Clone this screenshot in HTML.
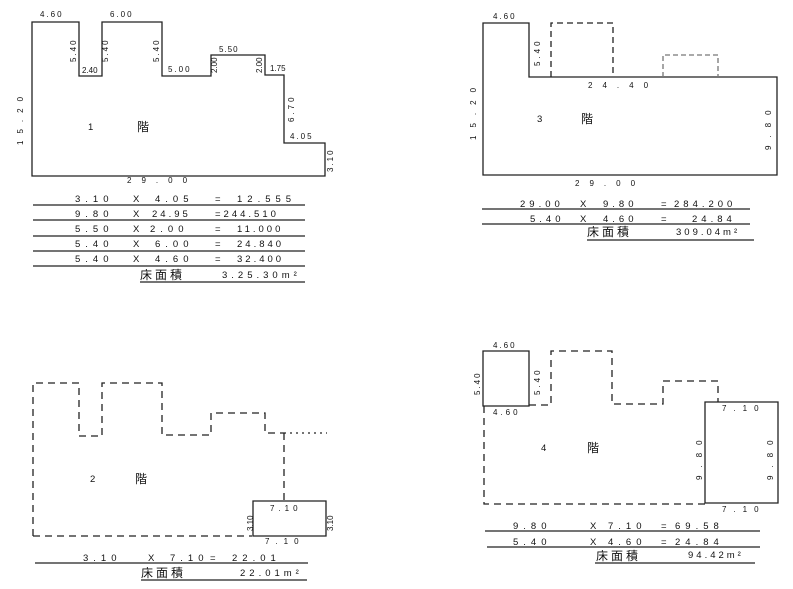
<!DOCTYPE html>
<html><head><meta charset="utf-8"><style>
html,body{margin:0;padding:0;background:#fff;}
svg{display:block;}
text{font-family:"Liberation Sans","Noto Sans CJK JP",sans-serif;fill:#111;}
.s{font-size:8px;}
.t{font-size:9.5px;}
.k{font-size:12px;}
</style></head><body>
<svg width="793" height="589" viewBox="0 0 793 589" xmlns="http://www.w3.org/2000/svg">
<g fill="none" stroke="#222" stroke-width="1.3">
<path d="M32 22H79V76H102V22H162V76H211V55H265V75H284V143H325V176H32Z"/>
<path d="M33 205H305M33 220H305M33 236H305M33 251H305M33 266H305M140 282H305"/>
<path d="M483 23H529V77H777V175H483Z"/>
<path d="M551 77V23H613V77" stroke-dasharray="6,4"/>
<path d="M663 77V55H718V77" stroke-dasharray="5,3" stroke="#777"/>
<path d="M482 209H750M482 224H750M587 240H754"/>
<path d="M33 536V383H79V436H102V383H162V435H211V413H265V433H284" stroke-dasharray="7,5"/>
<path d="M284 433H327" stroke-dasharray="2,4"/>
<path d="M284 433V500" stroke-dasharray="7,5"/>
<path d="M33 536H252" stroke-dasharray="7,5"/>
<path d="M253 501H326V536H253Z"/>
<path d="M35 563H308M141 580H307"/>
<path d="M483 351H529V406H483Z"/>
<path d="M529 405H551V351H612V404H663V381H718V402" stroke-dasharray="7,5"/>
<path d="M484 406V504H705" stroke-dasharray="7,5"/>
<path d="M705 402H778V503H705Z"/>
<path d="M485 531H760M487 547H760M595 563H755"/>
</g>

<text class="s" x="40" y="17" letter-spacing="2">4.60</text>
<text class="s" x="110" y="17" letter-spacing="2">6.00</text>
<text class="s" transform="translate(76,62) rotate(-90)" letter-spacing="2">5.40</text>
<text class="s" x="82" y="73">2.40</text>
<text class="s" transform="translate(108,62) rotate(-90)" letter-spacing="2">5.40</text>
<text class="s" transform="translate(159,62) rotate(-90)" letter-spacing="2">5.40</text>
<text class="s" x="168" y="72" letter-spacing="2">5.00</text>
<text class="s" transform="translate(217,73) rotate(-90)">2.00</text>
<text class="s" x="219" y="52" letter-spacing="1">5.50</text>
<text class="s" transform="translate(262,73) rotate(-90)">2.00</text>
<text class="s" x="270" y="71">1.75</text>
<text class="s" transform="translate(294,122) rotate(-90)" letter-spacing="3">6.70</text>
<text class="s" x="290" y="139" letter-spacing="2">4.05</text>
<text class="s" transform="translate(333,172) rotate(-90)" letter-spacing="2">3.10</text>
<text class="s" transform="translate(23,145) rotate(-90)" letter-spacing="7">15.20</text>
<text class="s" x="127" y="183" letter-spacing="10">29.00</text>
<text class="t" x="88" y="130">1</text>
<text class="k" x="137" y="131">階</text>
<g class="t" letter-spacing="5">
<text x="75" y="202">3.10</text><text x="133" y="202">X</text><text x="155" y="202">4.05</text><text x="215" y="202">=</text><text x="237" y="202">12.555</text>
<text x="75" y="217">9.80</text><text x="133" y="217">X</text><text x="152" y="217" letter-spacing="3">24.95</text><text x="215" y="217" letter-spacing="3">=244.510</text>
<text x="75" y="232">5.50</text><text x="133" y="232">X</text><text x="150" y="232">2.00</text><text x="215" y="232">=</text><text x="237" y="232" letter-spacing="3">11.000</text>
<text x="75" y="247">5.40</text><text x="133" y="247">X</text><text x="155" y="247">6.00</text><text x="215" y="247">=</text><text x="237" y="247" letter-spacing="3">24.840</text>
<text x="75" y="262">5.40</text><text x="133" y="262">X</text><text x="155" y="262">4.60</text><text x="215" y="262">=</text><text x="237" y="262" letter-spacing="3">32.400</text>
</g>
<text class="k" x="140" y="279" letter-spacing="3">床面積</text>
<text class="t" x="222" y="278" letter-spacing="4">3.25.30m²</text>

<text class="s" x="493" y="19" letter-spacing="2">4.60</text>
<text class="s" transform="translate(540,66) rotate(-90)" letter-spacing="3">5.40</text>
<text class="s" x="588" y="88" letter-spacing="10">24.40</text>
<text class="s" transform="translate(476,140) rotate(-90)" letter-spacing="8">15.20</text>
<text class="s" transform="translate(771,150) rotate(-90)" letter-spacing="8">9.80</text>
<text class="t" x="537" y="122">3</text>
<text class="k" x="581" y="123">階</text>
<text class="s" x="575" y="186" letter-spacing="10">29.00</text>
<g class="t" letter-spacing="4">
<text x="520" y="207">29.00</text><text x="580" y="207">X</text><text x="603" y="207">9.80</text><text x="661" y="207">=</text><text x="674" y="207">284.200</text>
<text x="530" y="222">5.40</text><text x="580" y="222">X</text><text x="603" y="222">4.60</text><text x="661" y="222">=</text><text x="692" y="222">24.84</text>
</g>
<text class="k" x="587" y="236" letter-spacing="3">床面積</text>
<text class="t" x="676" y="235" letter-spacing="3">309.04m²</text>

<text class="t" x="90" y="482">2</text>
<text class="k" x="135" y="483">階</text>
<text class="s" x="270" y="511" letter-spacing="4">7.10</text>
<text class="s" transform="translate(253,531) rotate(-90)">3.10</text>
<text class="s" transform="translate(333,531) rotate(-90)">3.10</text>
<text class="s" x="265" y="544" letter-spacing="6">7.10</text>
<g class="t" letter-spacing="5">
<text x="83" y="561">3.10</text><text x="148" y="561">X</text><text x="170" y="561">7.10</text><text x="210" y="561">=</text><text x="232" y="561">22.01</text>
</g>
<text class="k" x="141" y="577" letter-spacing="3">床面積</text>
<text class="t" x="240" y="576" letter-spacing="4">22.01m²</text>

<text class="s" x="493" y="348" letter-spacing="2">4.60</text>
<text class="s" transform="translate(480,395) rotate(-90)" letter-spacing="2">5.40</text>
<text class="s" transform="translate(540,395) rotate(-90)" letter-spacing="3">5.40</text>
<text class="s" x="493" y="415" letter-spacing="3">4.60</text>
<text class="t" x="541" y="451">4</text>
<text class="k" x="587" y="452">階</text>
<text class="s" x="722" y="411" letter-spacing="7">7.10</text>
<text class="s" transform="translate(702,480) rotate(-90)" letter-spacing="8">9.80</text>
<text class="s" transform="translate(773,480) rotate(-90)" letter-spacing="8">9.80</text>
<text class="s" x="722" y="512" letter-spacing="7">7.10</text>
<g class="t" letter-spacing="5">
<text x="513" y="529">9.80</text><text x="590" y="529">X</text><text x="608" y="529">7.10</text><text x="661" y="529">=</text><text x="675" y="529">69.58</text>
<text x="513" y="545">5.40</text><text x="590" y="545">X</text><text x="608" y="545">4.60</text><text x="661" y="545">=</text><text x="675" y="545">24.84</text>
</g>
<text class="k" x="596" y="560" letter-spacing="3">床面積</text>
<text class="t" x="688" y="558" letter-spacing="3">94.42m²</text>
</svg>
</body></html>
